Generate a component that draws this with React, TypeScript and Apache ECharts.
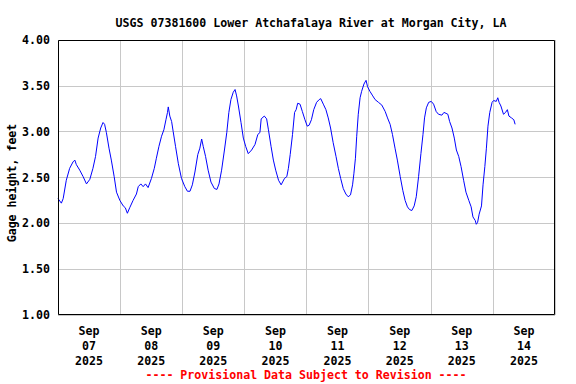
import React, { useEffect, useRef } from "react";
import * as echarts from "echarts";

const TITLE = "USGS 07381600 Lower Atchafalaya River at Morgan City, LA";
const Y_NAME = "Gage height, feet";
const FOOTER = "---- Provisional Data Subject to Revision ----";
const DAY_LABELS = ["Sep\n07\n2025", "Sep\n08\n2025", "Sep\n09\n2025", "Sep\n10\n2025", "Sep\n11\n2025", "Sep\n12\n2025", "Sep\n13\n2025", "Sep\n14\n2025"];

// hours since Sep 07 2025 00:00
const HOURS = [
  0, 1.3, 2, 3.2, 4.5, 5.8, 6.5, 7.1, 8.4, 9.7, 11, 12.3, 13.5, 14.5, 15.5, 16.5, 17.4, 18, 18.7, 19.7,
  20.6, 21.7, 22.6, 23.9, 25.2, 26, 26.8, 27.7, 29, 30.3, 31, 32, 32.9, 33.8, 34.8, 36.1, 37.2, 38, 39, 40,
  40.9, 41.7, 42.3, 42.6, 43.2, 43.9, 44.5, 45.4, 46.5, 47.7, 49, 50, 51, 51.9, 52.9, 54, 54.8, 55.5, 56.1, 57,
  58, 59.1, 60.4, 61.4, 62.2, 63.2, 64.3, 65.2, 66, 66.8, 67.7, 68.4, 69, 69.7, 70.7, 71.6, 72.5, 73.5, 74.8, 76.1,
  77.2, 78, 78.5, 79.7, 80.6, 81.3, 82.3, 83.2, 84.1, 85.2, 86.2, 87.5, 88.4, 89, 89.7, 90.6, 91.4, 92, 92.6, 93.5,
  94.4, 95.4, 96.3, 97, 97.9, 98.8, 99.9, 100.9, 101.5, 102.5, 103.5, 104.4, 105.3, 106.3, 107.4, 108.3, 109.2, 110.2, 111.2, 112.1,
  113, 113.8, 114.3, 114.9, 115.4, 116, 116.7, 117.3, 118.2, 119, 119.6, 120.5, 121.6, 122.5, 123.8, 125.1, 126.4, 127.3, 128.3, 129.2,
  130.2, 131.1, 132.2, 133.2, 134.1, 135, 135.8, 136.7, 137.6, 138.4, 139.3, 140.2, 141, 141.6, 142.3, 143.2, 144.2, 145.1, 146.1, 147,
  148.3, 149.1, 149.9, 150.6, 151.3, 152.2, 153.1, 153.9, 154.8, 155.7, 156.7, 157.6, 158.7, 159.6, 160.3, 161.2, 161.6, 162.1, 162.7, 163.6,
  164.2, 164.9, 165.5, 166.1, 166.8, 167.7, 168.3, 169.3, 169.9, 170.4, 171.1, 172.1, 172.9, 173.6, 174.2, 175.2, 176.1, 176.6,
];

const GAGE_FT = [
  2.27, 2.22, 2.27, 2.47, 2.6, 2.67, 2.69, 2.64, 2.58, 2.51, 2.43, 2.48, 2.6, 2.73, 2.93, 3.04, 3.1, 3.08, 2.99, 2.82,
  2.69, 2.51, 2.34, 2.25, 2.19, 2.17, 2.11, 2.17, 2.25, 2.32, 2.4, 2.43, 2.4, 2.43, 2.39, 2.49, 2.6, 2.71, 2.84, 2.95,
  3.02, 3.13, 3.21, 3.27, 3.17, 3.11, 3.0, 2.84, 2.65, 2.49, 2.4, 2.35, 2.35, 2.42, 2.56, 2.75, 2.82, 2.92, 2.84, 2.73,
  2.58, 2.45, 2.38, 2.37, 2.43, 2.58, 2.8, 2.99, 3.21, 3.35, 3.43, 3.46, 3.39, 3.28, 3.1, 2.93, 2.84, 2.76, 2.8, 2.86,
  2.97, 2.99, 3.14, 3.17, 3.14, 3.02, 2.84, 2.69, 2.58, 2.47, 2.42, 2.49, 2.51, 2.6, 2.75, 2.97, 3.21, 3.24, 3.31, 3.3,
  3.22, 3.13, 3.06, 3.07, 3.13, 3.24, 3.32, 3.35, 3.36, 3.3, 3.24, 3.15, 3.04, 2.88, 2.73, 2.6, 2.49, 2.38, 2.32, 2.29,
  2.31, 2.42, 2.54, 2.71, 2.95, 3.19, 3.37, 3.44, 3.52, 3.56, 3.49, 3.44, 3.39, 3.35, 3.32, 3.29, 3.22, 3.15, 3.08, 2.97,
  2.82, 2.69, 2.51, 2.36, 2.25, 2.18, 2.15, 2.14, 2.19, 2.29, 2.51, 2.76, 2.97, 3.15, 3.26, 3.32, 3.33, 3.3, 3.22, 3.19,
  3.18, 3.21, 3.2, 3.19, 3.11, 3.04, 2.93, 2.8, 2.73, 2.62, 2.47, 2.34, 2.25, 2.18, 2.07, 2.03, 1.99, 2.01, 2.1, 2.19,
  2.42, 2.62, 2.82, 3.06, 3.21, 3.32, 3.34, 3.33, 3.37, 3.32, 3.28, 3.19, 3.21, 3.24, 3.17, 3.15, 3.13, 3.08,
];

const Y_MIN = 1;
const Y_MAX = 4;
const Y_STEP = 0.5;
const X_MAX_HOURS = 192;

const FONT = "'DejaVu Sans Mono', 'Liberation Mono', monospace";

const GRID_LEFT = 58;
const GRID_TOP = 40;
const GRID_RIGHT = 21;
const GRID_BOTTOM = 69;
const W = 576;
const H = 384;

export default function App() {
  const ref = useRef<HTMLDivElement>(null);
  useEffect(() => {
    if (!ref.current) return;
    const chart = echarts.init(ref.current, null, { renderer: "svg" });
    const data = HOURS.map((h, i) => [h, GAGE_FT[i]]);
    chart.setOption({
      animation: false,
      backgroundColor: "#ffffff",
      title: {
        text: TITLE,
        left: 306,
        top: 12,
        textAlign: "center",
        textStyle: { fontFamily: FONT, fontSize: 11.6, fontWeight: "bold", color: "#000" },
      },
      graphic: [
        {
          type: "rect",
          z: 100,
          silent: true,
          shape: {
            x: GRID_LEFT + 0.5,
            y: GRID_TOP + 0.5,
            width: W - GRID_LEFT - GRID_RIGHT - 1,
            height: H - GRID_TOP - GRID_BOTTOM - 1,
          },
          style: { fill: "none", stroke: "#000", lineWidth: 1 },
        },
        {
          type: "text",
          x: 12,
          y: 183,
          rotation: Math.PI / 2,
          style: {
            text: Y_NAME,
            fontFamily: FONT,
            fontSize: 11.6,
            fontWeight: "bold",
            fill: "#000",
            align: "center",
            verticalAlign: "middle",
          },
        },
        {
          type: "text",
          x: 306,
          y: 375,
          style: {
            text: FOOTER,
            fontFamily: FONT,
            fontSize: 11.6,
            fontWeight: "bold",
            fill: "#ff0000",
            align: "center",
            verticalAlign: "middle",
          },
        },
      ],
      grid: {
        left: GRID_LEFT,
        right: GRID_RIGHT,
        top: GRID_TOP,
        bottom: GRID_BOTTOM,
        show: false,
      },
      xAxis: [
        {
          type: "value",
          min: 0,
          max: X_MAX_HOURS,
          interval: 24,
          axisLine: { show: false },
          axisTick: { show: false },
          axisLabel: { show: false },
          splitLine: { show: true, lineStyle: { color: "#c8c8c8", width: 1 } },
        },
        {
          type: "category",
          data: DAY_LABELS,
          position: "bottom",
          boundaryGap: true,
          axisLine: { show: false },
          axisTick: { show: false },
          splitLine: { show: false },
          axisLabel: {
            interval: 0,
            margin: 8,
            fontFamily: FONT,
            fontSize: 11.6,
            fontWeight: "bold",
            color: "#000",
            lineHeight: 15,
          },
        },
      ],
      yAxis: {
        type: "value",
        min: Y_MIN,
        max: Y_MAX,
        interval: Y_STEP,
        axisLine: { show: false },
        axisTick: { show: false },
        axisLabel: {
          margin: 8,
          formatter: (v: number) => v.toFixed(2),
          fontFamily: FONT,
          fontSize: 11.6,
          fontWeight: "bold",
          color: "#000",
        },
        splitLine: { show: true, lineStyle: { color: "#c8c8c8", width: 1 } },
      },
      series: [
        {
          type: "line",
          xAxisIndex: 0,
          data,
          showSymbol: false,
          symbol: "none",
          lineStyle: { color: "#0000ff", width: 1 },
        },
      ],
    });
    return () => chart.dispose();
  }, []);
  return (
    <div
      ref={ref}
      style={{ position: "fixed", left: 0, top: 0, width: W, height: H, background: "#fff" }}
    />
  );
}
